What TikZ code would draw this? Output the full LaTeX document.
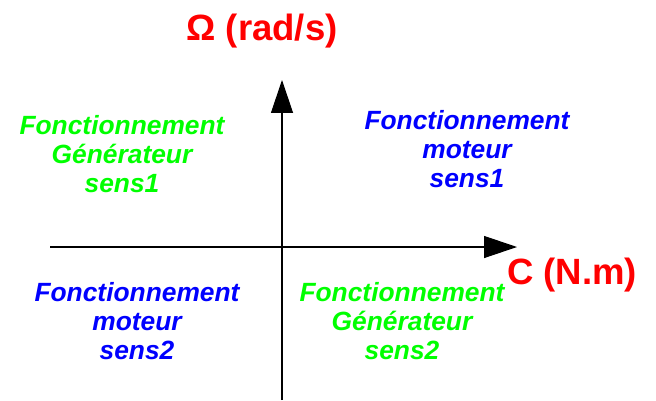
\documentclass[tikz,border=0pt]{standalone}
\usepackage{fontspec}
\setmainfont{Liberation Sans}
\usetikzlibrary{arrows.meta}
\definecolor{vert}{RGB}{0,255,0}
\definecolor{bleu}{RGB}{0,0,255}
\definecolor{rouge}{RGB}{255,0,0}
\begin{document}
\begin{tikzpicture}[x=0.02cm,y=-0.02cm,
  axe/.style={line width=0.6pt,-{Triangle[length=18.7pt,width=12.5pt]}},
  grandeur/.style={text=rouge,font=\bfseries\fontsize{20.8}{24}\selectfont,inner sep=0pt},
  quadrant/.style={align=center,inner sep=0pt,font=\bfseries\itshape\fontsize{15}{16.5}\selectfont},
  generateur/.style={quadrant,text=vert},
  moteur/.style={quadrant,text=bleu}]
\useasboundingbox (0,0) rectangle (656,400);
% axes
\coordinate (bas) at (282,400);
\coordinate (haut) at (282,80);
\coordinate (gauche) at (50,247);
\coordinate (droite) at (517,247);
\draw[axe] (bas) -- (haut);
\draw[axe] (gauche) -- (droite);
\node[grandeur] (omega) at (262,31) {Ω (rad/s)};
\node[grandeur] (couple) at (572,275) {C (N.m)};
% quadrants
\node[generateur] (gen1) at (122,154) {Fonctionnement\\Générateur\\sens1};
\node[moteur] (mot1) at (467,149) {Fonctionnement\\moteur\\sens1};
\node[moteur] (mot2) at (137,321) {Fonctionnement\\moteur\\sens2};
\node[generateur] (gen2) at (402,321) {Fonctionnement\\Générateur\\sens2};
\end{tikzpicture}
\end{document}
